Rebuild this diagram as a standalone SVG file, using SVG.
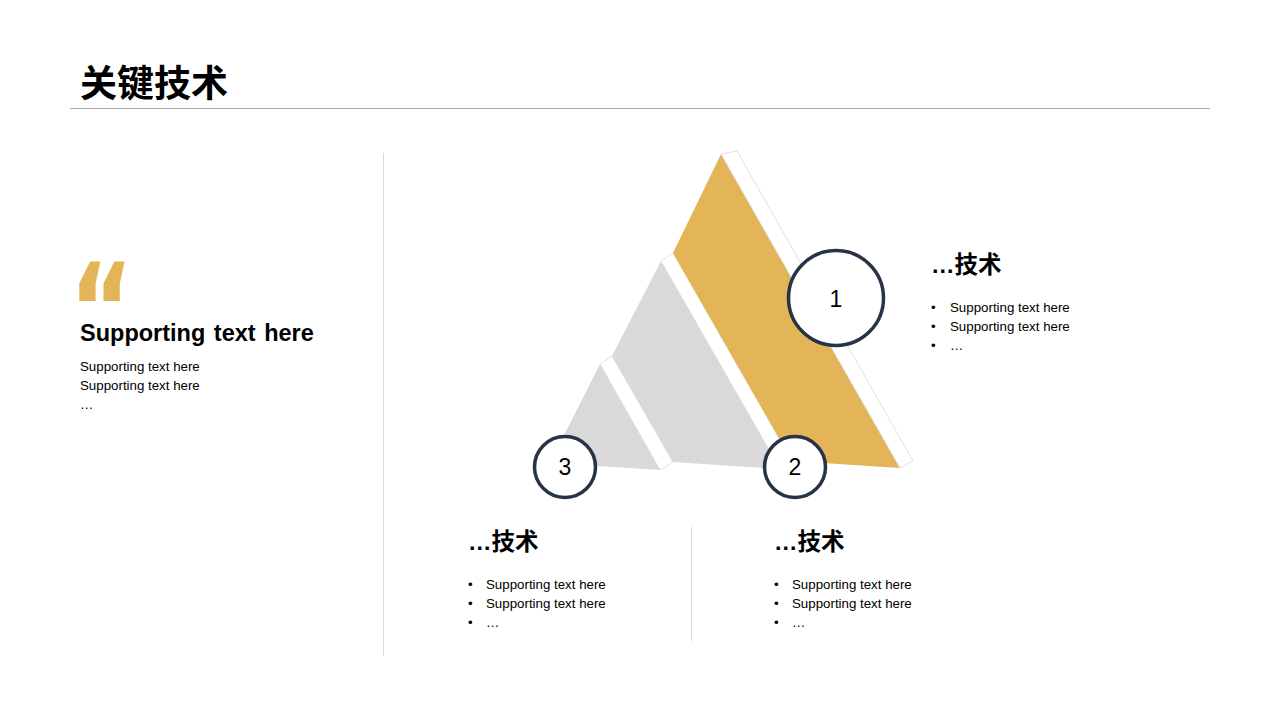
<svg xmlns="http://www.w3.org/2000/svg" width="1280" height="720" viewBox="0 0 1280 720">
<style>
.t{font-family:"Liberation Sans","Noto Sans CJK SC",sans-serif;fill:#000}
.h{font-weight:bold;font-size:23.5px}
.s{font-size:13.3px}
.num{font-family:"Liberation Sans",sans-serif;font-size:23px;fill:#000;text-anchor:middle}
.ring{fill:#fff;stroke:#283347;stroke-width:3.5}
.strip{fill:#fff;stroke:#d9d9d9;stroke-width:0.8}
.rule{stroke:#d9d9d9;stroke-width:1}
.q{font-family:"DejaVu Sans",sans-serif;font-size:110px;fill:#E3B558;font-weight:bold}
</style>
<rect width="1280" height="720" fill="#fff"/>
<g id="title">
<text class="t" x="80" y="97" font-size="37" font-weight="bold">关键技术</text>
<line x1="70" y1="108.5" x2="1210" y2="108.5" stroke="#a6a6a6" stroke-width="1"/>
</g>
<g id="dividers">
<line class="rule" x1="383.5" y1="153" x2="383.5" y2="656"/>
<line class="rule" x1="691.5" y1="527" x2="691.5" y2="641"/>
</g>
<g id="quote">
<text class="q" x="0" y="0" transform="translate(69.3,354) scale(0.89,1.15)">“</text>
<text class="t h" x="80" y="341" word-spacing="2">Supporting text here</text>
<text class="t s" x="80" y="371">Supporting text here</text>
<text class="t s" x="80" y="390">Supporting text here</text>
<text class="t s" x="80" y="409">…</text>
</g>
<g id="pyramid">
<polygon points="600,364 550,463 660,470" fill="#d9d9d9"/>
<polygon class="strip" points="600,364 612,356 673,462 660,470"/>
<polygon points="661,261 612,356 673,462 780,469" fill="#d9d9d9"/>
<polygon class="strip" points="661,261 673,253 792,461 780,469"/>
<polygon points="721,154 673,253 792,461 900,468" fill="#E3B558"/>
<polygon class="strip" points="721,154 737,151 913,461 900,468"/>
</g>
<g id="node1">
<circle class="ring" cx="836" cy="298" r="47.5"/>
<text class="num" x="836" y="307">1</text>
</g>
<g id="node2">
<circle class="ring" cx="795" cy="467" r="30.5"/>
<text class="num" x="795" y="475">2</text>
</g>
<g id="node3">
<circle class="ring" cx="565" cy="467" r="30.5"/>
<text class="num" x="565" y="475">3</text>
</g>
<g id="text1">
<text class="t h" x="931" y="273">…技术</text>
<text class="t s" x="931" y="312">•</text><text class="t s" x="950" y="312">Supporting text here</text>
<text class="t s" x="931" y="331">•</text><text class="t s" x="950" y="331">Supporting text here</text>
<text class="t s" x="931" y="350">•</text><text class="t s" x="950" y="350">…</text>
</g>
<g id="text3">
<text class="t h" x="468" y="550">…技术</text>
<text class="t s" x="468" y="589">•</text><text class="t s" x="486" y="589">Supporting text here</text>
<text class="t s" x="468" y="608">•</text><text class="t s" x="486" y="608">Supporting text here</text>
<text class="t s" x="468" y="627">•</text><text class="t s" x="486" y="627">…</text>
</g>
<g id="text2">
<text class="t h" x="774" y="550">…技术</text>
<text class="t s" x="774" y="589">•</text><text class="t s" x="792" y="589">Supporting text here</text>
<text class="t s" x="774" y="608">•</text><text class="t s" x="792" y="608">Supporting text here</text>
<text class="t s" x="774" y="627">•</text><text class="t s" x="792" y="627">…</text>
</g>
</svg>
